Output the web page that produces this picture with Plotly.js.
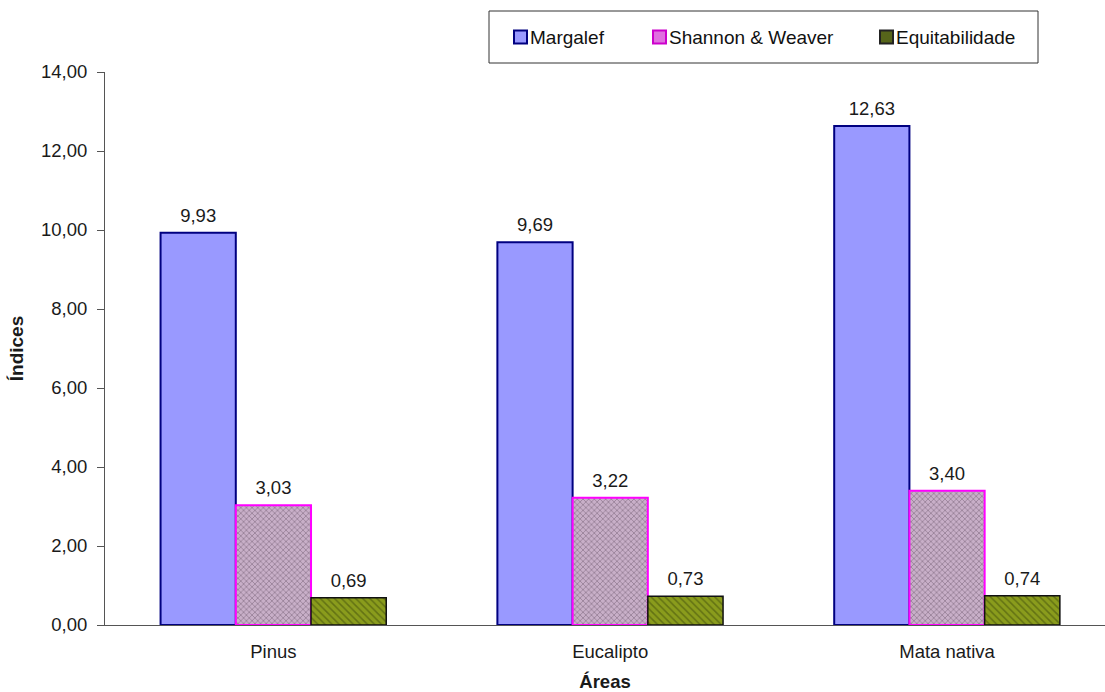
<!DOCTYPE html>
<html>
<head>
<meta charset="utf-8">
<script src="https://cdn.plot.ly/plotly-3.0.1.min.js"></script>
<style>
  html, body { margin: 0; padding: 0; background: #fff; }
  #chart { width: 1105px; height: 692px; }
</style>
</head>
<body>
<div id="chart"></div>
<script>
// Diversity indices per sampled area
const areas = ["Pinus", "Eucalipto", "Mata nativa"];
const margalef = [9.93, 9.69, 12.63];
const shannonWeaver = [3.03, 3.22, 3.40];
const equitabilidade = [0.69, 0.73, 0.74];
const seriesNames = ["Margalef", "Shannon & Weaver", "Equitabilidade"];
const yTicks = [0, 2, 4, 6, 8, 10, 12, 14];

const FONT = "Liberation Sans, Arial, sans-serif";
const TEXT = "#1a1a1a";
const labelFont = { family: FONT, size: 18.5, color: TEXT };

// Bar appearance per series
const styles = [
  { color: "#9999ff", line: { color: "#000080", width: 2 } },
  { color: "#c8afc8", line: { color: "#ff00ff", width: 2 },
    pattern: { shape: "x", fillmode: "overlay", fgcolor: "#6c586c", size: 4, solidity: 0.4 } },
  { color: "#8a9c1c", line: { color: "#111111", width: 1.5 },
    pattern: { shape: "\\", fillmode: "overlay", fgcolor: "#3b470a", size: 5, solidity: 0.3 } }
];
// Small legend swatches (solid approximations of the bar fills)
const swatches = [
  { fill: "#9999ff", line: "#000080" },
  { fill: "#e070e0", line: "#cc00cc" },
  { fill: "#56651a", line: "#222222" }
];
const seriesValues = [margalef, shannonWeaver, equitabilidade];

const traces = seriesValues.map((vals, i) => ({
  type: "bar",
  name: seriesNames[i],
  x: areas,
  y: vals,
  marker: styles[i],
  texttemplate: "%{y:.2f}",
  textposition: "outside",
  textfont: labelFont,
  cliponaxis: false,
  showlegend: false
}));

// Legend box laid out in plot-paper fractions (plot area is 1000 x 553 px)
const PX = px => (px - 105) / 1000;
const PY = py => (625 - py) / 553;
const legendItemX = [514, 653, 880];
const shapes = [{
  type: "rect", xref: "paper", yref: "paper",
  x0: PX(489), x1: PX(1038), y0: PY(63), y1: PY(11),
  line: { color: "#333333", width: 1 }, fillcolor: "#ffffff", layer: "below"
}];
const annotations = [];
legendItemX.forEach((lx, i) => {
  shapes.push({
    type: "rect", xref: "paper", yref: "paper",
    x0: PX(lx), x1: PX(lx + 13), y0: PY(43.5), y1: PY(30.5),
    fillcolor: swatches[i].fill, line: { color: swatches[i].line, width: 2 }
  });
  annotations.push({
    xref: "paper", yref: "paper", x: PX(lx + 14), y: PY(37),
    xanchor: "left", yanchor: "middle", showarrow: false,
    text: seriesNames[i], font: { family: FONT, size: 19, color: "#111111" }
  });
});

const layout = {
  width: 1105,
  height: 692,
  margin: { l: 105, r: 0, t: 72, b: 67 },
  paper_bgcolor: "#ffffff",
  plot_bgcolor: "#ffffff",
  font: { family: FONT, size: 18.5, color: TEXT },
  separators: ",.",
  barmode: "group",
  bargap: 0.33,
  bargroupgap: 0,
  showlegend: false,
  shapes: shapes,
  annotations: annotations,
  xaxis: {
    range: [-0.5, 2.469],
    showline: true,
    linecolor: "#555555",
    linewidth: 1,
    ticks: "",
    ticklabelstandoff: 10,
    showgrid: false,
    zeroline: false,
    tickfont: { family: FONT, size: 18.5, color: TEXT },
    title: { text: "<b>Áreas</b>", font: { family: FONT, size: 18.5, color: TEXT }, standoff: 14 }
  },
  yaxis: {
    range: [0, 14],
    tickvals: yTicks,
    tickformat: ".2f",
    showline: true,
    linecolor: "#555555",
    linewidth: 1,
    ticks: "outside",
    ticklen: 7,
    tickcolor: "#555555",
    ticklabelstandoff: 6,
    showgrid: false,
    zeroline: false,
    tickfont: { family: FONT, size: 18.5, color: TEXT },
    title: { text: "<b>Índices</b>", font: { family: FONT, size: 19, color: TEXT }, standoff: 12 }
  }
};

Plotly.newPlot("chart", traces, layout, { displayModeBar: false, staticPlot: true }).then(gd => {
  // lift the value labels a little further above the bar tops
  gd.querySelectorAll("text.bartext").forEach(el => {
    el.setAttribute("transform", "translate(0,-4) " + (el.getAttribute("transform") || ""));
  });
});
</script>
</body>
</html>
